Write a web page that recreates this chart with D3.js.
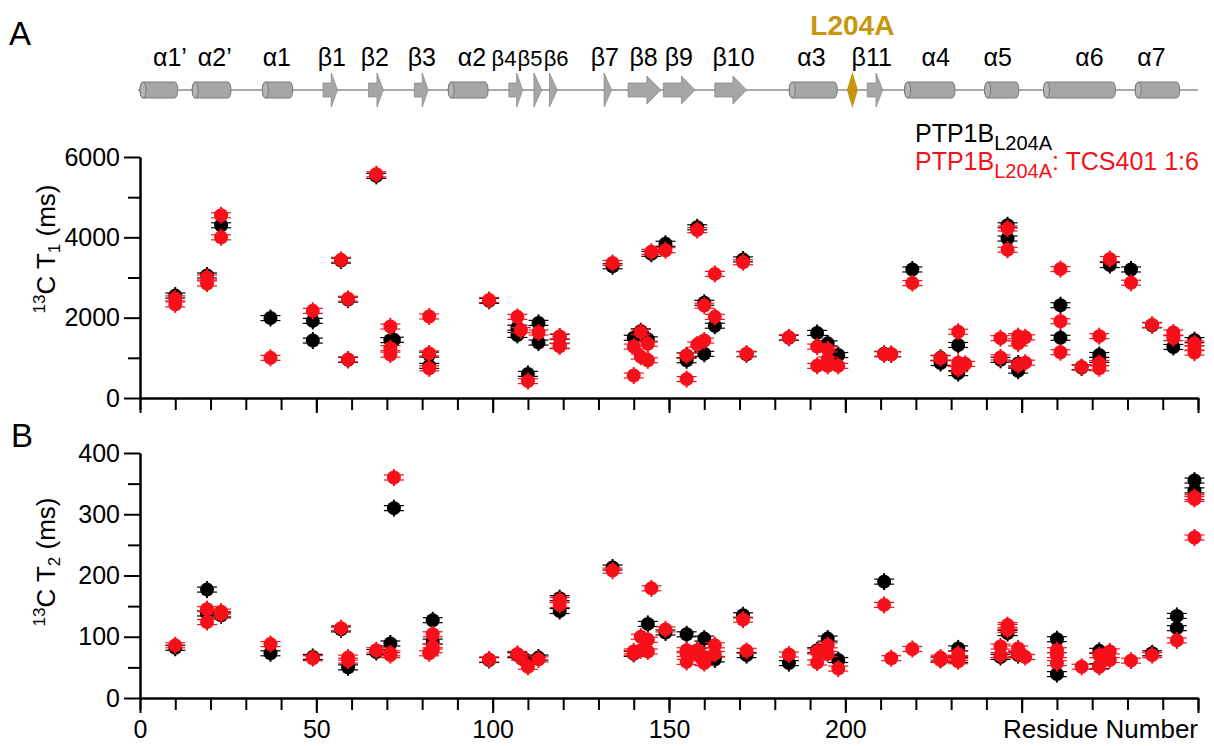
<!DOCTYPE html>
<html>
<head>
<meta charset="utf-8">
<script src="https://cdn.jsdelivr.net/npm/d3@7"></script>
<style>
  body { margin: 0; background: #fff; }
  text { font-family: "Liberation Sans", Arial, sans-serif; }
</style>
</head>
<body>
<svg id="chart" width="1214" height="746"></svg>
<script>
// ---- secondary structure (residue ranges) ----
const helixNames = ["α1’", "α2’", "α1", "α2", "α3", "α4", "α5", "α6", "α7"];
const helixSpans = [[0, 10.7], [14.8, 25.8], [34.7, 43.3], [87.4, 98.7], [184.1, 197.7],
                    [216.8, 231.1], [239.5, 249.2], [256.2, 276.6], [282.2, 294.8]];
const helixLabelAt = [8.5, 21.2, 38.8, 94.1, 190.4, 225.6, 243.2, 269.2, 286.8];

const strandNames = ["β1", "β2", "β3", "β4", "β5", "β6", "β7", "β8", "β9", "β10", "β11"];
const strandSpans = [[51.9, 56.0], [64.8, 69.0], [77.8, 81.7], [104.6, 108.5], [111.7, 113.9],
                     [116.1, 118.3], [131.6, 133.7], [138.4, 147.7], [148.4, 157.4], [163, 172], [206.2, 210.6]];
const strandLabelAt = [54.4, 66.6, 79.9, 103.2, 110.6, 118.0, 131.8, 142.8, 152.8, 168.3, 207.5];
// the crowded β4–β6 labels are set a little smaller
const crowded = ["β4", "β5", "β6"];

const mutationName = "L204A";
const mutationAt = 202;

// ---- 13C T1 (ms): [residue, value] ----
const t1Black = [[10, 2550], [19, 3050], [23, 4300], [37, 1990], [49, 1920], [49, 1430], [57, 3420],
  [59, 2450], [59, 950], [67, 5530], [71, 1440], [72, 1450], [82, 1080], [82, 800], [99, 2420],
  [107, 1750], [107, 1570], [110, 600], [113, 1870], [113, 1380], [119, 1520], [119, 1300],
  [134, 3280], [140, 1500], [142, 1660], [144, 1460], [145, 3590], [149, 3840], [155, 1060],
  [155, 940], [158, 4250], [160, 2370], [160, 1100], [163, 1800], [171, 3450], [172, 1090],
  [184, 1500], [192, 1620], [195, 1360], [198, 1070], [211, 1100], [213, 1090], [219, 3200],
  [227, 1000], [227, 870], [232, 1320], [232, 620], [244, 950], [246, 4300], [246, 3970],
  [249, 860], [249, 680], [261, 2310], [261, 1500], [267, 760], [272, 1070], [272, 950],
  [275, 3310], [281, 3200], [287, 1810], [293, 1270], [299, 1440]];
const t1Red = [[10, 2480], [10, 2330], [19, 3000], [19, 2850], [23, 4550], [23, 4000], [37, 1000],
  [49, 2170], [57, 3440], [59, 2470], [59, 960], [67, 5570], [71, 1780], [71, 1240], [71, 1080],
  [82, 2030], [82, 1110], [82, 740], [99, 2440], [107, 2020], [108, 1690], [110, 420], [113, 1630],
  [119, 1530], [119, 1290], [134, 3360], [140, 1280], [140, 560], [142, 1640], [142, 1030],
  [144, 1350], [144, 940], [145, 3640], [149, 3680], [155, 1060], [155, 470], [158, 4180],
  [158, 1330], [160, 2300], [160, 1430], [163, 3090], [163, 2020], [171, 3380], [172, 1100],
  [184, 1510], [192, 1280], [192, 800], [195, 1210], [195, 960], [195, 800], [198, 800],
  [211, 1090], [213, 1090], [219, 2860], [227, 990], [232, 1650], [232, 880], [232, 720],
  [234, 850], [244, 1490], [244, 1010], [246, 4220], [246, 3690], [249, 1540], [249, 1360],
  [249, 820], [251, 1510], [251, 880], [261, 3210], [261, 1910], [261, 1140], [267, 770],
  [272, 1540], [272, 870], [272, 740], [275, 3460], [281, 2870], [287, 1820], [293, 1630],
  [293, 1490], [299, 1360], [299, 1240], [299, 1130]];

// ---- 13C T2 (ms): [residue, value] ----
const t2Black = [[10, 82], [19, 177], [19, 138], [23, 135], [37, 73], [49, 67], [57, 112], [59, 50],
  [67, 75], [71, 89], [72, 310], [83, 127], [83, 92], [99, 62], [107, 70], [110, 59], [113, 66],
  [119, 163], [119, 142], [134, 213], [140, 72], [144, 121], [149, 107], [155, 104], [158, 77],
  [160, 97], [163, 63], [171, 135], [172, 70], [184, 57], [192, 78], [195, 97], [198, 62],
  [211, 190], [227, 63], [232, 81], [232, 62], [244, 67], [246, 106], [249, 70], [260, 96],
  [260, 39], [272, 77], [272, 52], [287, 73], [294, 134], [294, 114], [299, 355], [299, 339]];
const t2Red = [[10, 86], [19, 145], [19, 124], [23, 141], [23, 137], [37, 88], [49, 65], [57, 114],
  [59, 66], [59, 61], [67, 78], [71, 73], [71, 70], [72, 360], [83, 104], [83, 84], [82, 73],
  [83, 78], [99, 63], [107, 72], [108, 66], [110, 51], [113, 63], [119, 160], [119, 152],
  [134, 208], [140, 73], [140, 76], [142, 100], [142, 78], [144, 95], [144, 76], [145, 179],
  [149, 112], [155, 78], [155, 59], [155, 72], [158, 78], [158, 70], [160, 57], [160, 67],
  [163, 86], [163, 72], [171, 128], [172, 77], [184, 71], [192, 76], [192, 58], [195, 86],
  [195, 72], [198, 48], [211, 152], [213, 65], [219, 80], [227, 66], [227, 62], [232, 72],
  [232, 65], [232, 60], [244, 84], [244, 70], [246, 119], [246, 116], [246, 111], [249, 81],
  [249, 72], [251, 67], [260, 78], [260, 70], [260, 57], [267, 51], [272, 70], [272, 51],
  [275, 76], [275, 62], [281, 61], [287, 70], [294, 94], [299, 328], [299, 325], [299, 262]];

// ---- ticks ----
const xLabelTicks = [0, 50, 100, 150, 200];
const t1Ticks = [0, 2000, 4000, 6000];
const t2Ticks = [0, 100, 200, 300, 400];

const RED = "#f7101a";
const GOLD = "#c8960c";
const svg = d3.select("#chart");

// residue scale shared by the track and both panels
const x = d3.scaleLinear().domain([0, 300]).range([140, 1198]);
const yA = d3.scaleLinear().domain([0, 6000]).range([398, 157]);
const yB = d3.scaleLinear().domain([0, 400]).range([698, 453]);

// ---------- secondary structure track ----------
const trackY = 90;
const track = svg.append("g");
track.append("line")
  .attr("x1", x(0) - 2).attr("x2", x(300))
  .attr("y1", trackY).attr("y2", trackY)
  .attr("stroke", "#8c8c8c").attr("stroke-width", 1.5);

helixSpans.forEach(function(s) {
  const x0 = x(s[0]), x1 = x(s[1]);
  track.append("rect")
    .attr("x", x0).attr("y", trackY - 8).attr("width", x1 - x0).attr("height", 16)
    .attr("rx", 3).attr("ry", 8)
    .attr("fill", "#a6a6a6").attr("stroke", "#7a7a7a").attr("stroke-width", 1);
  track.append("ellipse")
    .attr("cx", x0 + 3).attr("cy", trackY).attr("rx", 3).attr("ry", 8)
    .attr("fill", "#b4b4b4").attr("stroke", "#7a7a7a").attr("stroke-width", 1);
});

strandSpans.forEach(function(s) {
  const x0 = x(s[0]), x1 = x(s[1]);
  const len = x1 - x0;
  let pts;
  if (len < 10) {
    pts = [[x0, trackY - 17], [x1, trackY], [x0, trackY + 17]];
  } else {
    const head = Math.min(14, len * 0.43);
    const hh = len > 25 ? 14 : 17;
    const xb = x1 - head;
    pts = [[x0, trackY - 7], [xb, trackY - 7], [xb, trackY - hh], [x1, trackY],
           [xb, trackY + hh], [xb, trackY + 7], [x0, trackY + 7]];
  }
  track.append("polygon")
    .attr("points", pts.map(p => p.join(",")).join(" "))
    .attr("fill", "#a6a6a6").attr("stroke", "#8a8a8a").attr("stroke-width", 0.8);
});

// mutation diamond + label
const mx = x(mutationAt);
track.append("polygon")
  .attr("points", `${mx},${trackY - 18} ${mx + 5.5},${trackY} ${mx},${trackY + 18} ${mx - 5.5},${trackY}`)
  .attr("fill", GOLD);
track.append("text")
  .attr("x", mx).attr("y", 35)
  .attr("text-anchor", "middle").attr("font-size", 28).attr("font-weight", "bold")
  .attr("fill", GOLD).text(mutationName);

const labels = helixNames.map((n, i) => [n, helixLabelAt[i]])
  .concat(strandNames.map((n, i) => [n, strandLabelAt[i]]));
track.selectAll("text.ss").data(labels).enter().append("text")
  .attr("class", "ss")
  .attr("x", d => x(d[1])).attr("y", 66)
  .attr("text-anchor", "middle")
  .attr("font-size", d => crowded.includes(d[0]) ? 22 : 25)
  .text(d => d[0]);

// ---------- axes ----------
function xAxis(yPos, showLabels) {
  const minor = svg.append("g").attr("transform", `translate(0,${yPos})`)
    .call(d3.axisBottom(x).tickValues(d3.range(0, 301, 10)).tickSize(12).tickSizeOuter(0).tickFormat(""));
  const major = svg.append("g").attr("transform", `translate(0,${yPos})`)
    .call(d3.axisBottom(x).tickValues(d3.range(0, 301, 50)).tickSize(15).tickSizeOuter(0).tickPadding(7)
      .tickFormat(d => (showLabels && xLabelTicks.includes(d)) ? d : ""));
  [minor, major].forEach(g => {
    g.selectAll("path, line").attr("stroke", "#000").attr("stroke-width", 2);
    g.selectAll("text").attr("font-size", 25).attr("fill", "#000")
      .style("font-family", '"Liberation Sans", Arial, sans-serif');
  });
}

function yAxis(scale, ticks) {
  const step = ticks[1] - ticks[0];
  const top = ticks[ticks.length - 1];
  const minorVals = d3.range(step / 2, top, step);
  const minor = svg.append("g").attr("transform", `translate(${x(0)},0)`)
    .call(d3.axisLeft(scale).tickValues(minorVals).tickSize(12).tickSizeOuter(0).tickFormat(""));
  const major = svg.append("g").attr("transform", `translate(${x(0)},0)`)
    .call(d3.axisLeft(scale).tickValues(ticks).tickSize(16).tickSizeOuter(0).tickPadding(4).tickFormat(d3.format("d")));
  [minor, major].forEach(g => {
    g.selectAll("path, line").attr("stroke", "#000").attr("stroke-width", 2);
    g.selectAll("text").attr("font-size", 25).attr("fill", "#000")
      .style("font-family", '"Liberation Sans", Arial, sans-serif');
  });
}

xAxis(yA(0), false);
xAxis(yB(0), true);
yAxis(yA, t1Ticks);
yAxis(yB, t2Ticks);

svg.append("text")
  .attr("x", x(300)).attr("y", 738)
  .attr("text-anchor", "end").attr("font-size", 26)
  .text("Residue Number");

// y axis titles: 13C T1 (ms) / 13C T2 (ms)
function yTitle(cy, sub) {
  const t = svg.append("text")
    .attr("transform", `translate(55,${cy}) rotate(-90)`)
    .attr("text-anchor", "middle").attr("font-size", 26);
  t.append("tspan").attr("font-size", 17).attr("dy", -10).text("13");
  t.append("tspan").attr("dy", 10).text("C T");
  t.append("tspan").attr("font-size", 17).attr("dy", 5).text(sub);
  t.append("tspan").attr("dy", -5).text(" (ms)");
}
yTitle(249, "1");
yTitle(562, "2");

// panel letters
svg.append("text").attr("x", 9).attr("y", 45).attr("font-size", 33).text("A");
svg.append("text").attr("x", 11).attr("y", 447).attr("font-size", 33).text("B");

// ---------- data points ----------
function drawSeries(data, yScale, color) {
  const g = svg.append("g");
  const pt = g.selectAll("g.pt").data(data).enter().append("g")
    .attr("class", "pt")
    .attr("transform", d => `translate(${x(d[0])},${yScale(d[1])})`);
  pt.append("line").attr("x1", 0).attr("x2", 0).attr("y1", -8.5).attr("y2", 8.5)
    .attr("stroke", color).attr("stroke-width", 2);
  pt.append("line").attr("x1", -10).attr("x2", 10).attr("y1", -2.5).attr("y2", -2.5)
    .attr("stroke", color).attr("stroke-width", 1.2);
  pt.append("line").attr("x1", -10).attr("x2", 10).attr("y1", 2.5).attr("y2", 2.5)
    .attr("stroke", color).attr("stroke-width", 1.2);
  pt.append("circle").attr("r", 7).attr("fill", color);
}

drawSeries(t1Black, yA, "#000");
drawSeries(t1Red, yA, RED);
drawSeries(t2Black, yB, "#000");
drawSeries(t2Red, yB, RED);

// ---------- legend ----------
const leg1 = svg.append("text").attr("x", 915).attr("y", 142).attr("font-size", 25).attr("fill", "#000");
leg1.append("tspan").text("PTP1B");
leg1.append("tspan").attr("font-size", 20).attr("dy", 8).text("L204A");

const leg2 = svg.append("text").attr("x", 915).attr("y", 170).attr("font-size", 25).attr("fill", RED);
leg2.append("tspan").text("PTP1B");
leg2.append("tspan").attr("font-size", 20).attr("dy", 8).text("L204A");
leg2.append("tspan").attr("dy", -8).text(": TCS401 1:6");
</script>
</body>
</html>
